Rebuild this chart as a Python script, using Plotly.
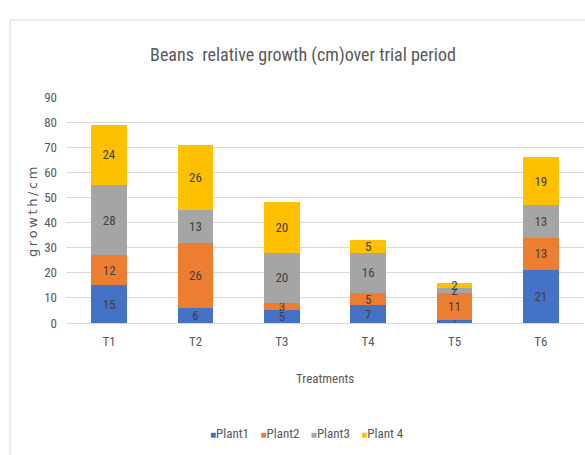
import plotly.graph_objects as go

treatments = ["T1", "T2", "T3", "T4", "T5", "T6"]
plant1 = [15, 6, 5, 7, 1, 21]
plant2 = [12, 26, 3, 5, 11, 13]
plant3 = [28, 13, 20, 16, 2, 13]
plant4 = [24, 26, 20, 5, 2, 19]
series_names = ["Plant1", "Plant2", "Plant3", "Plant 4"]
colors = ["#4472C4", "#ED7D31", "#A5A5A5", "#FFC000"]

FONT = "Liberation Sans Narrow, Roboto Condensed, Liberation Sans, sans-serif"

fig = go.Figure()
for name, vals, col in zip(series_names, [plant1, plant2, plant3, plant4], colors):
    fig.add_trace(go.Bar(
        x=treatments, y=vals, name=name,
        marker=dict(color=col, line=dict(width=0)),
        text=[str(v) for v in vals], textposition="inside",
        insidetextanchor="middle", textangle=0,
        textfont=dict(family=FONT, size=13, color="#404040"),
        hoverinfo="skip", showlegend=False,
    ))

W, H = 585, 455
L, R, T, B = 66, 1, 97, 132
pw = W - L - R
ph = H - T - B

fig.update_layout(
    width=W, height=H,
    barmode="stack", bargap=0.59,
    margin=dict(l=L, r=R, t=T, b=B),
    plot_bgcolor="white", paper_bgcolor="white",
    font=dict(family=FONT, color="#595959"),
    uniformtext=dict(minsize=13, mode="show"),
    title=dict(text="Beans  relative growth (cm)over trial period",
               x=303 / W, xref="container", xanchor="center",
               y=1 - 55 / H, yref="container", yanchor="middle",
               font=dict(family=FONT, size=18, color="#595959")),
    xaxis=dict(showgrid=False, showline=True, linecolor="#d9d9d9", linewidth=1,
               ticks="", tickfont=dict(family=FONT, size=13, color="#595959"),
               ticklabelstandoff=6),
    yaxis=dict(range=[0, 90], dtick=10, showgrid=True, gridcolor="#d9d9d9",
               gridwidth=1, zeroline=False, showline=False, ticks="",
               tickfont=dict(family=FONT, size=13, color="#595959"),
               ticklabelstandoff=8),
    showlegend=False,
)

# compact legend (Excel style)
legend_text = "\u2003".join(
    f"<span style='color:{c};font-size:10px'>\u25A0</span>{n}"
    for n, c in zip(series_names, colors))
fig.add_annotation(text=legend_text, xref="paper", yref="paper",
                   x=(307 - L) / pw, y=(H - B - 433) / ph, showarrow=False,
                   xanchor="center", yanchor="middle",
                   font=dict(family=FONT, size=13, color="#595959"))

fig.add_annotation(text="Treatments", xref="paper", yref="paper",
                   x=(325 - L) / pw, y=(H - B - 378) / ph, showarrow=False,
                   xanchor="center", yanchor="middle",
                   font=dict(family=FONT, size=13, color="#595959"))
fig.add_annotation(text="g\u2009r\u2009o\u2009w\u2009t\u2009h\u2009/\u2009c\u2009m",
                   xref="paper", yref="paper",
                   x=(32 - L) / pw, y=(H - B - 212) / ph, showarrow=False,
                   textangle=-90, xanchor="center", yanchor="middle",
                   font=dict(family="DejaVu Sans, sans-serif", size=13, color="#595959"))

# chart area border
fig.add_shape(type="rect", xref="paper", yref="paper",
              x0=(10 - L) / pw, x1=(W + 20 - L) / pw,
              y0=(H - B - (H + 20)) / ph, y1=(H - B - 20) / ph,
              line=dict(color="#d9d9d9", width=1), layer="below")

fig.write_html("out.html")
